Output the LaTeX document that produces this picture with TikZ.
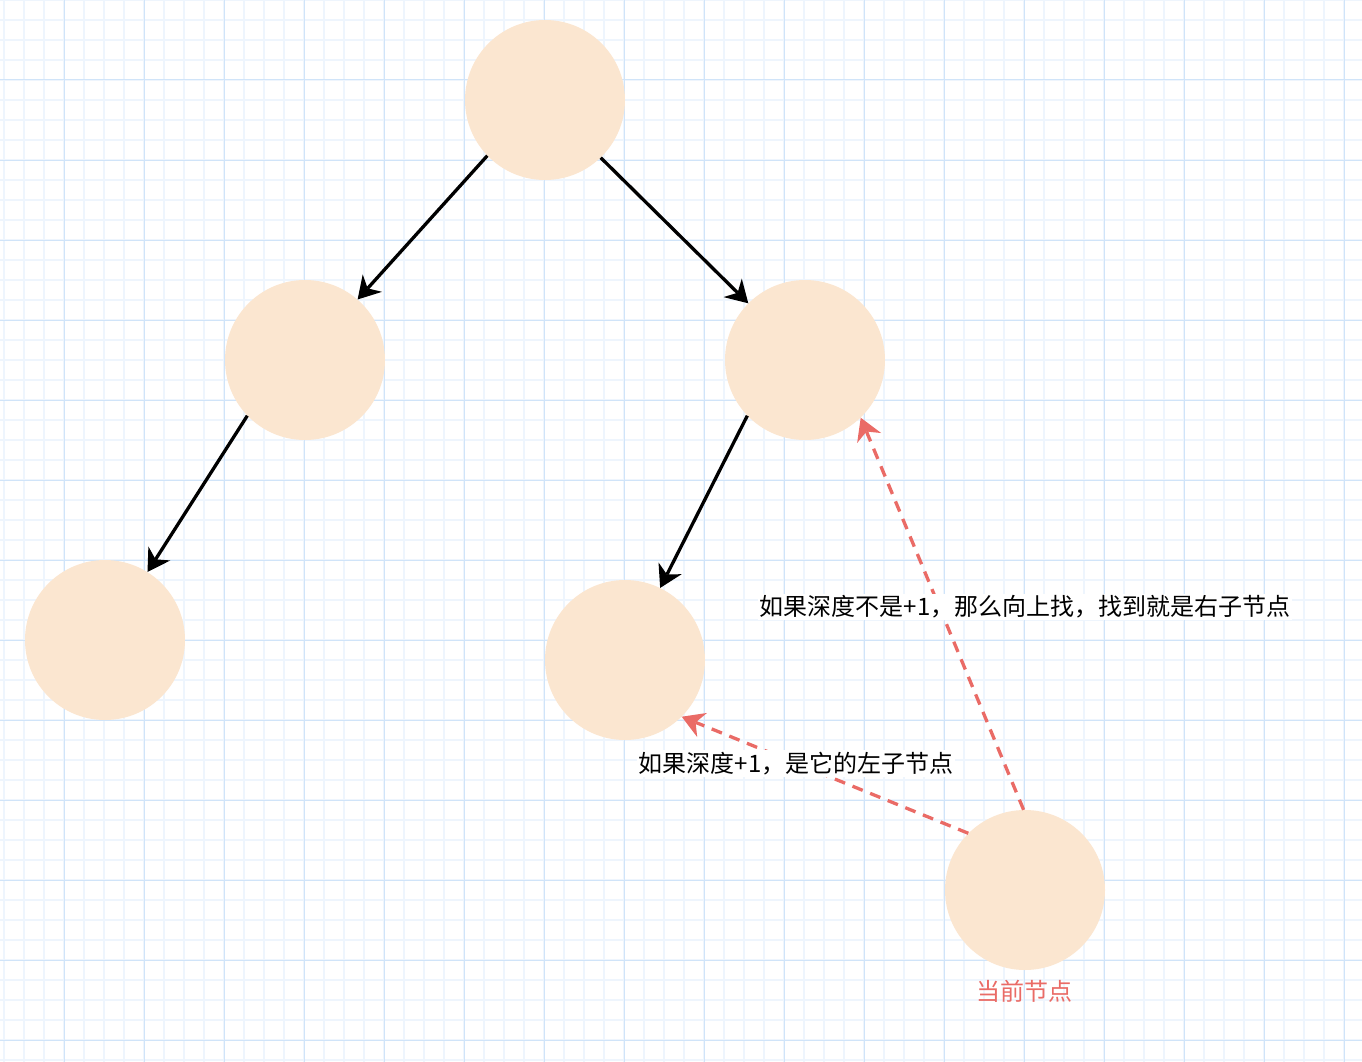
\documentclass[tikz,border=0pt]{standalone}
\usepackage{fontspec}
\newfontfamily\cjk{Noto Sans CJK SC}
\usetikzlibrary{arrows.meta}
\definecolor{nodefill}{HTML}{FBE6D0}
\definecolor{redline}{HTML}{EA6B66}
\definecolor{gridminor}{HTML}{EEF5FD}
\definecolor{gridmajor}{HTML}{D0E4F9}
\tikzset{
  treenode/.style={circle, fill=nodefill, draw=none, minimum size=160pt, inner sep=0pt},
  blackedge/.style={line width=3.3pt, black, -{Stealth[length=22pt,width=26pt,inset=7pt,line width=0pt]}},
  rededge/.style={line width=3.3pt, redline, dash pattern=on 11pt off 8pt, -{Stealth[length=22pt,width=26pt,inset=7pt,line width=0pt]}},
  lbl/.style={font=\cjk\fontsize{24}{28}\selectfont, fill=white, inner sep=2pt, text=black},
  redlbl/.style={font=\cjk\fontsize{24}{28}\selectfont, inner sep=0pt, text=redline}
}
\begin{document}
\begin{tikzpicture}[x=1pt,y=-1pt]
\useasboundingbox (0,0) rectangle (1362,1062);
\fill[white] (0,0) rectangle (1362,1062);
\foreach \x in {4,24,...,1364} \draw[gridminor, line width=1.6pt] (\x,0) -- (\x,1062);
\foreach \y in {0,20,...,1062} \draw[gridminor, line width=1.6pt] (0,\y) -- (1362,\y);
\foreach \x in {64,144,...,1364} \draw[gridmajor, line width=1pt] (\x,0) -- (\x,1062);
\foreach \y in {0,80,...,1062} \draw[gridmajor, line width=1pt] (0,\y) -- (1362,\y);

\node[treenode] (root) at (545,100) {};
\node[treenode] (l) at (305,360) {};
\node[treenode] (r) at (805,360) {};
\node[treenode] (ll) at (105,640) {};
\node[treenode] (rl) at (625,660) {};
\node[treenode] (cur) at (1025,890) {};

\draw[blackedge] (root.224.5) -- (l.49.5);
\draw[blackedge] (root.314.5) -- (r.135.5);
\draw[blackedge] (l.224.5) -- (ll.58);
\draw[blackedge] (r.224.5) -- (rl.64.4);

\draw[rededge] (cur.135.5) -- (rl.-45);
\draw[rededge] (cur.91.4) -- (r.-46);

\node[lbl] (t1) at (796,763.5) {如果深度+1，是它的左子节点};
\node[lbl] (t2) at (1025,607) {如果深度不是+1，那么向上找，找到就是右子节点};
\node[redlbl] (t3) at (1024,991) {当前节点};
\end{tikzpicture}
\end{document}
